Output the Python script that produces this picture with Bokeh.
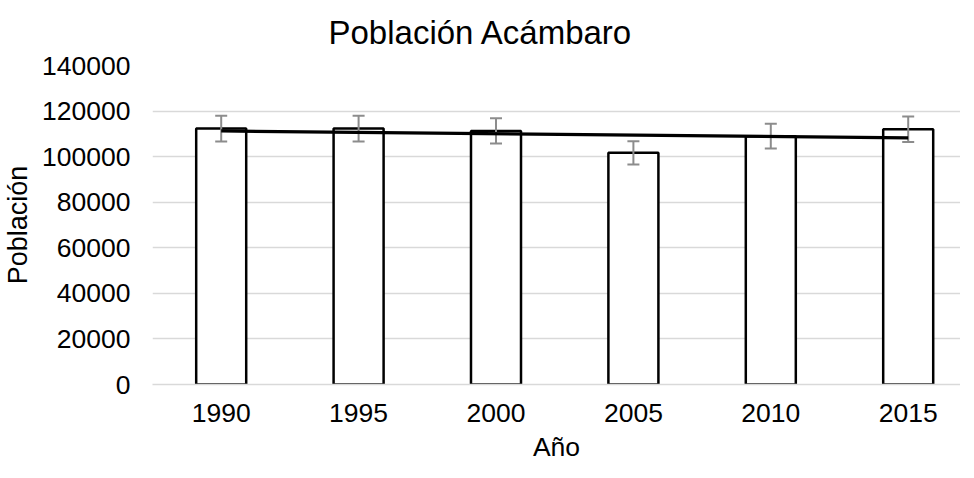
import numpy as np
from bokeh.plotting import figure
from bokeh.models import ColumnDataSource, FixedTicker, Range1d, Whisker, TeeHead, BasicTickFormatter
from bokeh.embed import file_html
from bokeh.resources import INLINE

# ---- data ----
years = [1990, 1995, 2000, 2005, 2010, 2015]
poblacion = [112300, 112300, 111300, 101700, 109000, 112000]
error = [5600, 5600, 5550, 5100, 5450, 5600]
y_ticks = [0, 20000, 40000, 60000, 80000, 100000, 120000, 140000]

title_text = "Población Acámbaro"
x_title = "Año"
y_title = "Población"

FONT = "Liberation Sans"

src = ColumnDataSource(dict(
    x=years,
    top=poblacion,
    upper=[v + e for v, e in zip(poblacion, error)],
    lower=[v - e for v, e in zip(poblacion, error)],
))

# linear trend line computed from the data
coef = np.polyfit(np.array(years, dtype=float), np.array(poblacion, dtype=float), 1)
trend_x = [years[0], years[-1]]
trend_y = [float(np.polyval(coef, years[0])), float(np.polyval(coef, years[-1]))]

FW, FH = 808, 319
p = figure(frame_width=FW, frame_height=FH, output_backend="svg", toolbar_location=None,
           x_range=Range1d(1987.5, 1987.5 + FW / 27.48), y_range=Range1d(0, 140000),
           min_border_left=150, min_border_right=0, min_border_top=65,
           min_border_bottom=0)

p.title.text = title_text
p.title.text_font = FONT
p.title.text_font_size = "33px"
p.title.text_font_style = "normal"
p.title.text_color = "#000000"
p.title.align = "left"
p.title.vertical_align = "top"
p.title.offset = 176
p.title.standoff = 26

p.outline_line_color = None
p.background_fill_color = "white"
p.border_fill_color = "white"

p.xgrid.grid_line_color = None
p.ygrid.grid_line_color = "#d9d9d9"
p.ygrid.grid_line_width = 1.3

# y axis
p.yaxis.ticker = FixedTicker(ticks=y_ticks)
p.yaxis.formatter = BasicTickFormatter(use_scientific=False)
p.yaxis.axis_line_color = None
p.yaxis.major_tick_line_color = None
p.yaxis.minor_tick_line_color = None
p.yaxis.major_tick_out = 0
p.yaxis.major_label_standoff = 22
p.yaxis.major_label_text_font = FONT
p.yaxis.major_label_text_font_size = "26.5px"
p.yaxis.major_label_text_color = "#000000"
p.yaxis.axis_label = y_title
p.yaxis.axis_label_text_font = FONT
p.yaxis.axis_label_text_font_size = "27px"
p.yaxis.axis_label_text_font_style = "normal"
p.yaxis.axis_label_text_color = "#000000"
p.yaxis.axis_label_standoff = 6

# x axis
p.xaxis.ticker = FixedTicker(ticks=years)
p.xaxis.axis_line_color = "#d9d9d9"
p.xaxis.axis_line_width = 1.3
p.xaxis.major_tick_line_color = None
p.xaxis.minor_tick_line_color = None
p.xaxis.major_tick_out = 0
p.xaxis.major_label_standoff = 19
p.xaxis.major_label_text_font = FONT
p.xaxis.major_label_text_font_size = "26.5px"
p.xaxis.major_label_text_color = "#000000"
p.xaxis.axis_label = x_title
p.xaxis.axis_label_text_font = FONT
p.xaxis.axis_label_text_font_size = "26.5px"
p.xaxis.axis_label_text_font_style = "normal"
p.xaxis.axis_label_text_color = "#000000"
p.xaxis.axis_label_standoff = 7

# bars
p.vbar(x="x", top="top", width=1.82, bottom=0, source=src,
       fill_color="white", line_color="black", line_width=2.5)

# error bars (drawn above the bars)
err_col = "#8c8c8c"
wh = Whisker(base="x", upper="upper", lower="lower", source=src, level="annotation",
             line_color=err_col, line_width=2,
             upper_head=TeeHead(size=12, line_color=err_col, line_width=2),
             lower_head=TeeHead(size=12, line_color=err_col, line_width=2))
p.add_layout(wh)

# trend line
tr = p.line(trend_x, trend_y, line_color="black", line_width=3.2)
tr.level = "overlay"

open("out.html", "w").write(file_html(p, INLINE))
